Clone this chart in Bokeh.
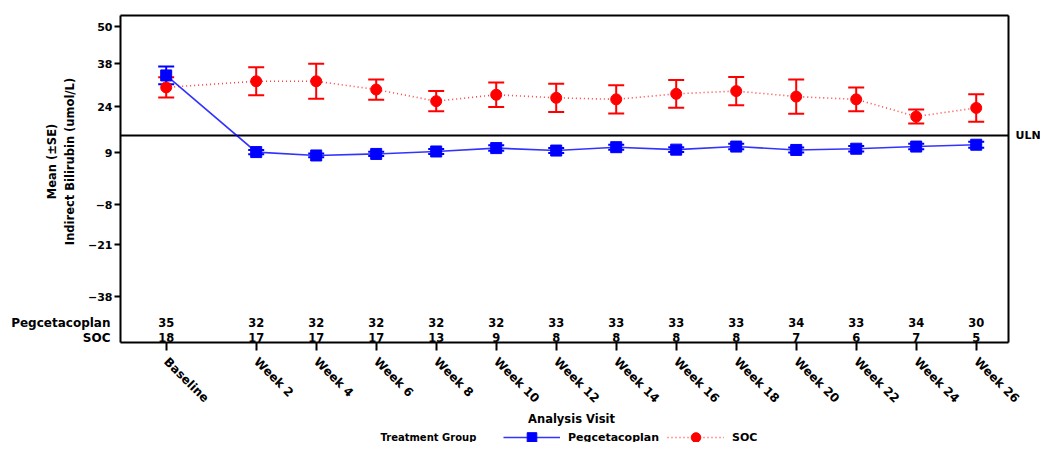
import math
from bokeh.plotting import figure
from bokeh.models import (ColumnDataSource, FixedTicker, Range1d, Whisker, TeeHead,
                          Label, Legend, LegendItem, LinearAxis)
from bokeh.embed import file_html
from bokeh.resources import INLINE
from bokeh.core.properties import value

# ---------------- data ----------------
visits = ["Baseline", "Week 2", "Week 4", "Week 6", "Week 8", "Week 10", "Week 12",
          "Week 14", "Week 16", "Week 18", "Week 20", "Week 22", "Week 24", "Week 26"]
visit_pos = [-1, 2, 4, 6, 8, 10, 12, 14, 16, 18, 20, 22, 24, 26]

peg_mean = [34.2, 9.2, 8.1, 8.6, 9.4, 10.5, 9.7, 10.8, 10.0, 11.0, 9.9, 10.3, 11.0, 11.6]
peg_se = [2.9, 0.7, 0.6, 0.7, 0.8, 0.9, 0.8, 0.8, 0.8, 0.9, 0.8, 0.9, 0.9, 1.0]
soc_mean = [30.3, 32.3, 32.3, 29.6, 25.8, 27.9, 26.9, 26.4, 28.2, 29.1, 27.3, 26.4, 20.8, 23.6]
soc_se = [3.3, 4.6, 5.7, 3.3, 3.3, 4.0, 4.6, 4.6, 4.5, 4.6, 5.6, 3.9, 2.3, 4.5]

peg_n = [35, 32, 32, 32, 32, 32, 33, 33, 33, 33, 34, 33, 34, 30]
soc_n = [18, 17, 17, 17, 13, 9, 8, 8, 8, 8, 7, 6, 7, 5]

y_ticks = [-38, -21, -8, 9, 24, 38, 50]
uln = 14.6

# ---------------- layout constants (data units of the panel) ----------------
BOX_X0, BOX_X1 = -2.523, 27.077      # plot box left / right
BOX_Y0, BOX_Y1 = -52.97, 53.75       # plot box bottom / top
ROW_PEG_Y, ROW_SOC_Y = -46.4, -51.3  # rows of subject counts

FONT = "DejaVu Sans"
BLUE = "#0000ff"
RED = "#ff0000"

peg_src = ColumnDataSource(dict(
    x=visit_pos, y=peg_mean,
    lo=[m - s for m, s in zip(peg_mean, peg_se)],
    hi=[m + s for m, s in zip(peg_mean, peg_se)]))
soc_src = ColumnDataSource(dict(
    x=visit_pos, y=soc_mean,
    lo=[m - s for m, s in zip(soc_mean, soc_se)],
    hi=[m + s for m, s in zip(soc_mean, soc_se)]))

p = figure(width=1040, height=442,
           x_range=Range1d(-6.523, 28.143), y_range=Range1d(-85.52, 58.64),
           x_axis_location=None, y_axis_location=None,
           output_backend="svg", toolbar_location=None, min_border=0)
p.xgrid.visible = False
p.ygrid.visible = False
p.outline_line_color = None
p.background_fill_color = "white"
p.border_fill_color = "white"


def style_axis(ax):
    ax.axis_line_color = "black"
    ax.axis_line_width = 2
    ax.major_tick_line_width = 2
    ax.major_tick_line_color = "black"
    ax.minor_tick_line_color = None
    ax.major_tick_in = 0
    ax.major_label_text_font = FONT
    ax.major_label_text_font_style = "bold"
    ax.major_label_text_color = "black"


# left axis (y)
yax = LinearAxis(fixed_location=BOX_X0, bounds=(BOX_Y0, BOX_Y1),
                 ticker=FixedTicker(ticks=y_ticks))
style_axis(yax)
yax.major_tick_out = 6
yax.major_label_text_font_size = "11px"
yax.major_label_standoff = 2
p.add_layout(yax, "left")

# bottom axis (visits)
xax = LinearAxis(fixed_location=BOX_Y0, bounds=(BOX_X0, BOX_X1),
                 ticker=FixedTicker(ticks=visit_pos))
style_axis(xax)
xax.major_label_overrides = {v: l for v, l in zip(visit_pos, visits)}
xax.major_label_orientation = -math.pi / 4
xax.major_tick_out = 8
xax.major_label_text_font_size = "12px"
xax.major_label_standoff = 9
p.add_layout(xax, "below")

# top border
tax = LinearAxis(fixed_location=BOX_Y1, bounds=(BOX_X0, BOX_X1), ticker=FixedTicker(ticks=[]))
style_axis(tax)
tax.major_tick_line_color = None
p.add_layout(tax, "above")

# right border with ULN label
rax = LinearAxis(fixed_location=BOX_X1, bounds=(BOX_Y0, BOX_Y1), ticker=FixedTicker(ticks=[uln]))
style_axis(rax)
rax.major_tick_out = 0
rax.major_tick_line_color = None
rax.major_label_overrides = {uln: "ULN"}
rax.major_label_text_font_size = "11px"
rax.major_label_standoff = 7
p.add_layout(rax, "right")

# ULN reference line across the plot box
p.line(x=[BOX_X0, BOX_X1], y=[uln, uln], line_color="black", line_width=2)

# SOC
p.add_layout(Whisker(source=soc_src, base="x", lower="lo", upper="hi", dimension="height",
                     line_color=RED, line_width=2,
                     upper_head=TeeHead(size=16, line_color=RED, line_width=2),
                     lower_head=TeeHead(size=16, line_color=RED, line_width=2)))
soc_line = p.line("x", "y", source=soc_src, line_color=RED, line_width=1.6,
                  line_dash="1 3", line_alpha=0.75)
soc_pts = p.scatter("x", "y", source=soc_src, marker="circle", size=11,
                    fill_color=RED, line_color=RED)

# Pegcetacoplan
p.add_layout(Whisker(source=peg_src, base="x", lower="lo", upper="hi", dimension="height",
                     line_color=BLUE, line_width=2,
                     upper_head=TeeHead(size=16, line_color=BLUE, line_width=2),
                     lower_head=TeeHead(size=16, line_color=BLUE, line_width=2)))
peg_line = p.line("x", "y", source=peg_src, line_color=BLUE, line_width=1.6, line_alpha=0.8)
peg_pts = p.scatter("x", "y", source=peg_src, marker="square", size=11,
                    fill_color=BLUE, line_color=BLUE)

# subject counts
cnt_src = ColumnDataSource(dict(x=visit_pos, peg=[str(n) for n in peg_n],
                                soc=[str(n) for n in soc_n]))
for col, yy in (("peg", ROW_PEG_Y), ("soc", ROW_SOC_Y)):
    p.text(x="x", y=value(yy), text=col, source=cnt_src, text_align="center",
           text_baseline="middle", text_font=value(FONT), text_font_style="bold",
           text_font_size="11.5px", text_color="black")


def lab(x, y, t, size, align="left", angle=0.0):
    p.add_layout(Label(x=x, y=y, text=t, text_font=FONT, text_font_style="bold",
                       text_font_size=size, text_align=align, text_baseline="middle",
                       angle=angle, text_color="black"))


lab(-2.857, ROW_PEG_Y, "Pegcetacoplan", "12px", align="right")
lab(-2.857, ROW_SOC_Y, "SOC", "12px", align="right")
lab(-4.807, 6.13, "Mean (±SE)", "11.5px", align="center", angle=math.pi / 2)
lab(-4.223, 6.13, "Indirect Bilirubin (umol/L)", "11.5px", align="center", angle=math.pi / 2)
lab(12.51, -77.7, "Analysis Visit", "11.5px", align="center")
lab(6.143, -83.9, "Treatment Group", "10px")

legend = Legend(items=[LegendItem(label="Pegcetacoplan", renderers=[peg_line, peg_pts]),
                       LegendItem(label="SOC", renderers=[soc_line, soc_pts])],
                orientation="horizontal", location=(503, -7), glyph_width=57,
                glyph_height=24, label_standoff=8, spacing=8, padding=0, margin=0,
                border_line_color=None, background_fill_alpha=0,
                label_text_font=FONT, label_text_font_style="bold",
                label_text_font_size="11px", label_text_color="black")
p.add_layout(legend)

open("out.html", "w").write(file_html(p, INLINE))
